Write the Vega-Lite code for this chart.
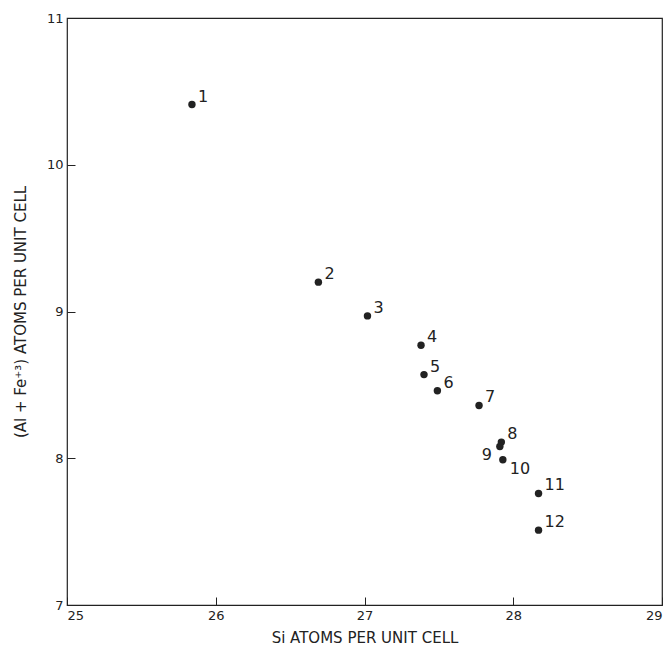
{
  "$schema": "https://vega.github.io/schema/vega-lite/v6.json",
  "width": 595,
  "height": 587,
  "autosize": "none",
  "padding": {"left": 67, "top": 18, "right": 8, "bottom": 48},
  "background": "white",
  "config": {
    "view": {"stroke": "#222", "strokeWidth": 1.2},
    "font": "DejaVu Sans",
    "axis": {"grid": false, "domain": false, "tickColor": "#222", "labelColor": "#222", "titleColor": "#222", "labelFont": "DejaVu Sans", "titleFont": "DejaVu Sans", "titleFontWeight": "normal", "labelFontSize": 13, "titleFontSize": 15}
  },
  "data": {
    "values": [
      {"n": "1", "si": 25.84, "al": 10.41},
      {"n": "2", "si": 26.69, "al": 9.20},
      {"n": "3", "si": 27.02, "al": 8.97},
      {"n": "4", "si": 27.38, "al": 8.77},
      {"n": "5", "si": 27.4, "al": 8.57},
      {"n": "6", "si": 27.49, "al": 8.46},
      {"n": "7", "si": 27.77, "al": 8.36},
      {"n": "8", "si": 27.92, "al": 8.11},
      {"n": "9", "si": 27.91, "al": 8.08},
      {"n": "10", "si": 27.93, "al": 7.99},
      {"n": "11", "si": 28.17, "al": 7.76},
      {"n": "12", "si": 28.17, "al": 7.51}
    ]
  },
  "encoding": {
    "x": {"field": "si", "type": "quantitative", "scale": {"domain": [25, 29], "nice": false},
      "axis": {"values": [25, 26, 27, 28, 29], "tickSize": -8, "labelPadding": 12, "title": "Si ATOMS PER UNIT CELL", "titlePadding": 8}},
    "y": {"field": "al", "type": "quantitative", "scale": {"domain": [7, 11], "nice": false},
      "axis": {"values": [7, 8, 9, 10, 11], "tickSize": -8, "labelPadding": 12, "title": "(Al + Fe⁺³) ATOMS PER UNIT CELL", "titlePadding": 18}}
  },
  "layer": [
    {"mark": {"type": "circle", "size": 55, "color": "#222", "opacity": 1}},
    {"transform": [{"filter": "datum.n != '9' && datum.n != '10'"}],
      "mark": {"type": "text", "align": "left", "dx": 6, "dy": -8, "fontSize": 16, "color": "#222"},
      "encoding": {"text": {"field": "n"}}},
    {"transform": [{"filter": "datum.n == '9'"}],
      "mark": {"type": "text", "align": "right", "dx": -8, "dy": 8, "fontSize": 16, "color": "#222"},
      "encoding": {"text": {"field": "n"}}},
    {"transform": [{"filter": "datum.n == '10'"}],
      "mark": {"type": "text", "align": "left", "dx": 7, "dy": 9, "fontSize": 16, "color": "#222"},
      "encoding": {"text": {"field": "n"}}}
  ]
}
